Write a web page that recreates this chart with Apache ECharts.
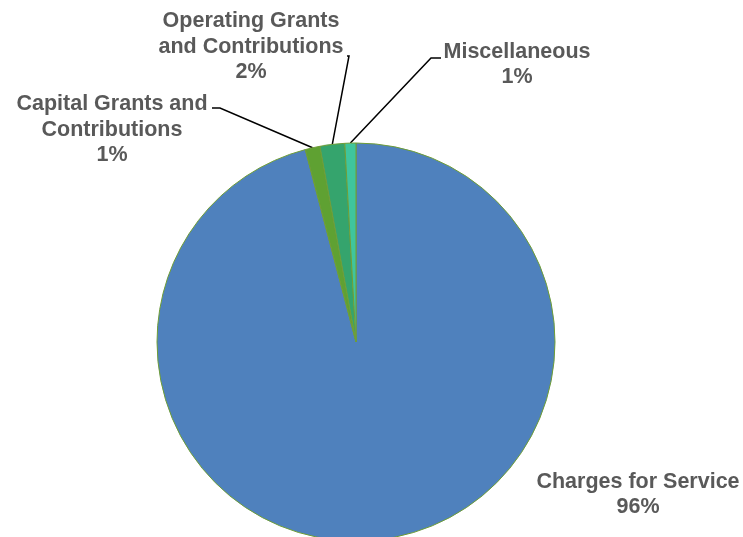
<!DOCTYPE html>
<html>
<head>
<meta charset="utf-8">
<script src="https://cdn.jsdelivr.net/npm/echarts@6/dist/echarts.min.js"></script>
<style>html,body{margin:0;padding:0;background:#fff;}#c{width:743px;height:537px;}</style>
</head>
<body>
<div id="c"></div>
<script>
var categories = ['Charges for Service', 'Capital Grants and\nContributions', 'Operating Grants\nand Contributions', 'Miscellaneous'];
var values = [95.9, 1.2, 2.0, 0.9];
var percentLabels = ['96%', '1%', '2%', '1%'];
var colors = ['#4f81bd', '#5fa132', '#35a46d', '#3fc59d'];

// label anchor positions and leader bends (layout, not data)
var labelPos = [
  {x: 638, y: 494.5, line: null},
  {x: 112, y: 130, line: [[220, 108], [212, 108]]},
  {x: 251, y: 47, line: [[349, 56], [347, 56]]},
  {x: 517, y: 64.5, line: [[431, 58], [441, 58]]}
];

var chart = echarts.init(document.getElementById('c'), null, {renderer: 'canvas'});
var data = categories.map(function (c, i) {
  return {
    name: c, value: values[i],
    itemStyle: {color: colors[i]},
    labelLine: {show: i !== 0}
  };
});
chart.setOption({
  animation: false,
  series: [{
    type: 'pie',
    center: [356, 342],
    radius: 199,
    startAngle: 90,
    clockwise: true,
    data: data,
    itemStyle: {borderColor: '#6f9d37', borderWidth: 1},
    label: {
      show: true,
      overflow: 'none',
      formatter: function (p) { return p.name + '\n' + percentLabels[p.dataIndex]; },
      fontFamily: 'Liberation Sans, Arial, sans-serif',
      fontWeight: 'bold',
      fontSize: 21.5,
      lineHeight: 25.5,
      color: '#595959',
      align: 'center'
    },
    labelLine: {show: true, length: 10, length2: 10, lineStyle: {color: '#000', width: 1.5}},
    labelLayout: function (params) {
      var lp = labelPos[params.dataIndex];
      var out = {x: lp.x, y: lp.y, align: 'center', verticalAlign: 'middle'};
      if (lp.line && params.labelLinePoints) {
        out.labelLinePoints = [params.labelLinePoints[0], lp.line[0], lp.line[1]];
      }
      return out;
    }
  }]
});
</script>
</body>
</html>
